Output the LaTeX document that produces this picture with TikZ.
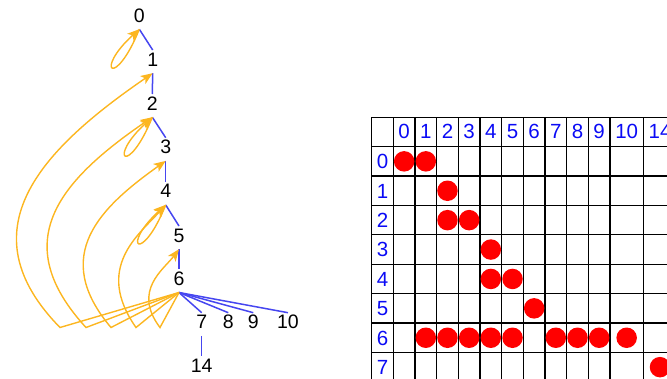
\documentclass[tikz,border=0pt]{standalone}
\usepackage{fontspec}
\setmainfont{Liberation Sans}
\usetikzlibrary{arrows.meta}
\definecolor{edgeblue}{RGB}{70,70,240}
\definecolor{arcorange}{RGB}{252,182,32}
\definecolor{hdrblue}{RGB}{10,10,245}
\definecolor{dotred}{RGB}{255,0,0}
\begin{document}
\begin{tikzpicture}[x=1pt,y=-1pt,
  vlabel/.style={inner sep=0pt, text height=15.8pt, text depth=7pt, anchor=base,
                 font=\fontsize{19.5}{19.5}\selectfont},
  treeedge/.style={draw=edgeblue, line width=1.5pt},
  arcedge/.style={draw=arcorange, line width=1.4pt,
                  -{Stealth[length=12pt,width=9.5pt,inset=3pt]}},
  hdr/.style={inner sep=0pt, text height=14.6pt, text depth=0pt, anchor=center,
              text=hdrblue, font=\fontsize{20.5}{20.5}\selectfont},
  dot/.style={circle, fill=dotred, inner sep=0pt, minimum size=20.5pt},
  gridline/.style={draw=black, line width=1.3pt}]
\path[use as bounding box, clip] (0,0) rectangle (667,378);

% ---------- tree ----------
\node[vlabel] (n0)  at (139.3,22)    {0};
\node[vlabel] (n1)  at (152.7,66)    {1};
\node[vlabel] (n2)  at (152.3,110)   {2};
\node[vlabel] (n3)  at (165.7,153.7) {3};
\node[vlabel] (n4)  at (165.7,197.7) {4};
\node[vlabel] (n5)  at (179,242)     {5};
\node[vlabel] (n6)  at (179,285.3)   {6};
\node[vlabel] (n7)  at (201.7,328.7) {7};
\node[vlabel] (n8)  at (228.3,328.7) {8};
\node[vlabel] (n9)  at (253.3,328.7) {9};
\node[vlabel] (n10) at (288,328.7)   {10};
\node[vlabel] (n14) at (201.7,372)   {14};

\draw[treeedge] (n0.south) -- (n1.north);
\draw[treeedge] (n1.south) -- (n2.north);
\draw[treeedge] (n2.south) -- (n3.north);
\draw[treeedge] (n3.south) -- (n4.north);
\draw[treeedge] (n4.south) -- (n5.north);
\draw[treeedge] (n5.south) -- (n6.north);
\draw[treeedge] (n6.south) -- (n7.north);
\draw[treeedge] (n6.south) -- (n8.north);
\draw[treeedge] (n6.south) -- (n9.north);
\draw[treeedge] (n6.south) -- (n10.north);
\draw[treeedge] (n7.south) -- (n14.north);

% self loops
\draw[arcedge] (n0.south) .. controls +(-24,60) and +(-46,42) .. (n0.south);
\draw[arcedge] (n2.south) .. controls +(-24,60) and +(-46,42) .. (n2.south);
\draw[arcedge] (n4.south) .. controls +(-24,60) and +(-46,42) .. (n4.south);

% arcs from 6
\draw[arcedge] (n6.south) -- ++(-119,35) .. controls +(-95,-97) and +(-112.7,77.3) .. (n1.south);
\draw[arcedge] (n6.south) -- ++(-93,35) .. controls +(-78,-85) and +(-95,65) .. (n2.south);
\draw[arcedge] (n6.south) -- ++(-68,35) .. controls +(-61,-72) and +(-65.7,46.7) .. (n3.south);
\draw[arcedge] (n6.south) -- ++(-43,35) .. controls +(-42,-60) and +(-26.8,29.7) .. (n4.south);
\draw[arcedge] (n6.south) -- ++(-19,35) .. controls +(-28,-37) and +(-15,20) .. (n5.south);

% ---------- matrix ----------
\foreach \yy in {117.3,146.7,176,205.4,234.8,264.2,293.6,323,352.4}
  \draw[gridline] (371.7,\yy) -- (690,\yy);
\foreach \xx in {371.7,393.3,415,436.7,458.3,480,501.7,523.3,545,566.7,588.3,610,643.3}
  \draw[gridline] (\xx,117.3) -- (\xx,390);

\foreach \lab/\cx [count=\i] in {0/404.15,1/425.8,2/447.5,3/469.15,4/490.8,5/512.5,6/534.15,7/555.8,8/577.5,9/599.15,10/626.65,14/660}
  \node[hdr] (h\i) at (\cx,131.5) {\lab};
\foreach \r in {0,...,7}
  \node[hdr] (r\r) at (382.5,161.35+29.4*\r) {\r};

\foreach \r/\c in {0/0,0/1,1/2,2/2,2/3,3/4,4/4,4/5,5/6,6/1,6/2,6/3,6/4,6/5,6/7,6/8,6/9,6/10,7/11}{
  \pgfmathsetmacro\cx{\c<10 ? 404.15+21.67*\c : (\c==10 ? 626.65 : 660)}
  \node[dot] (d\r-\c) at (\cx,161.35+29.4*\r) {};
}
\end{tikzpicture}
\end{document}
